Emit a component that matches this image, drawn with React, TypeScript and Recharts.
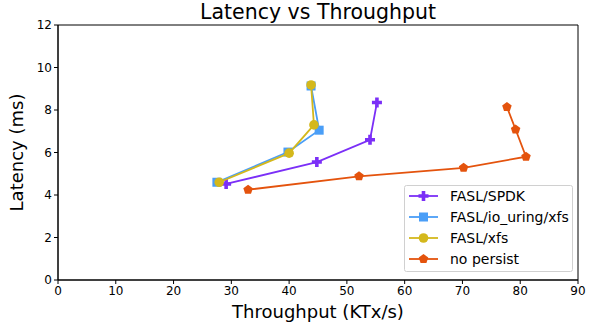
import React from 'react';
import {
  ScatterChart,
  Scatter,
  XAxis,
  YAxis,
  ReferenceArea,
} from 'recharts';

const spdkX = [29.1, 44.8, 54.0, 55.2];
const spdkY = [4.52, 5.55, 6.6, 8.35];

const ioUringX = [27.5, 39.8, 45.2, 43.8];
const ioUringY = [4.6, 6.02, 7.05, 9.13];

const xfsX = [27.9, 40.0, 44.3, 43.8];
const xfsY = [4.6, 5.97, 7.3, 9.18];

const noPersistX = [32.9, 52.1, 70.2, 81.0, 79.2, 77.7];
const noPersistY = [4.25, 4.88, 5.28, 5.8, 7.08, 8.14];

const xTicks = [0, 10, 20, 30, 40, 50, 60, 70, 80, 90];
const yTicks = [0, 2, 4, 6, 8, 10, 12];

const seriesNames = ['FASL/SPDK', 'FASL/io_uring/xfs', 'FASL/xfs', 'no persist'];
const colors = ['#7b2ff7', '#4a9ef7', '#d4b81c', '#e4530d'];
const markers = ['plus', 'square', 'circle', 'pentagon'];

const zip = (xs: number[], ys: number[]) => xs.map((x, i) => ({ x, y: ys[i] }));

const seriesData = [
  zip(spdkX, spdkY),
  zip(ioUringX, ioUringY),
  zip(xfsX, xfsY),
  zip(noPersistX, noPersistY),
];

const FONT = 'DejaVu Sans, sans-serif';

function Marker({ kind, cx, cy, color }: { kind: string; cx: number; cy: number; color: string }) {
  if (kind === 'plus') {
    const a = 5;
    const t = 1.8;
    const pts = [
      [-t, -a], [t, -a], [t, -t], [a, -t], [a, t], [t, t], [t, a], [-t, a], [-t, t], [-a, t], [-a, -t], [-t, -t],
    ]
      .map(([dx, dy]) => `${cx + dx},${cy + dy}`)
      .join(' ');
    return <polygon points={pts} fill={color} />;
  }
  if (kind === 'square') {
    return <rect x={cx - 4.5} y={cy - 4.5} width={9} height={9} fill={color} />;
  }
  if (kind === 'circle') {
    return <circle cx={cx} cy={cy} r={4.8} fill={color} />;
  }
  const r = 5;
  const pts = [0, 1, 2, 3, 4]
    .map((i) => {
      const ang = -Math.PI / 2 + (i * 2 * Math.PI) / 5;
      return `${cx + r * Math.cos(ang)},${cy + r * Math.sin(ang)}`;
    })
    .join(' ');
  return <polygon points={pts} fill={color} />;
}

const makeShape = (i: number) => (props: any) => {
  const { cx, cy } = props;
  if (cx == null || cy == null) return <g />;
  return <Marker kind={markers[i]} cx={cx} cy={cy} color={colors[i]} />;
};

const LegendBox = () => (
  <svg width={170} height={88} style={{ display: 'block' }}>
    <rect x={0.5} y={0.5} width={168} height={86} rx={2} fill="#fff" fillOpacity={0.8} stroke="#d0d0d0" />
    {seriesNames.map((name, i) => {
      const y = 11 + i * 21;
      return (
        <g key={name}>
          <line x1={5} x2={34} y1={y} y2={y} stroke={colors[i]} strokeWidth={1.8} />
          <Marker kind={markers[i]} cx={19.5} cy={y} color={colors[i]} />
          <text x={46} y={y + 5} fontSize={14} fontFamily={FONT} fill="#000">
            {name}
          </text>
        </g>
      );
    })}
  </svg>
);

export default function App() {
  return (
    <div style={{ position: 'absolute', left: 0, top: 0, width: 597, height: 330, background: '#fff' }}>
      <div
        style={{
          position: 'absolute',
          left: 58,
          width: 520,
          top: 0,
          textAlign: 'center',
          fontFamily: FONT,
          fontSize: 20.5,
          lineHeight: '24px',
          color: '#000',
        }}
      >
        Latency vs Throughput
      </div>
      <ScatterChart
        width={597}
        height={330}
        margin={{ top: 25, right: 19, bottom: 20, left: 28 }}
        style={{ fontFamily: FONT }}
      >
        <XAxis
          type="number"
          dataKey="x"
          domain={[0, 90]}
          ticks={xTicks}
          interval={0}
          allowDataOverflow
          height={30}
          tickSize={4}
          stroke="#000"
          tick={{ fill: '#000', fontSize: 12, fontFamily: FONT }}
          label={{ value: 'Throughput (KTx/s)', position: 'insideBottom', offset: -8, fontSize: 18, fill: '#000', fontFamily: FONT }}
        />
        <YAxis
          type="number"
          dataKey="y"
          domain={[0, 12]}
          ticks={yTicks}
          interval={0}
          allowDataOverflow
          width={30}
          tickSize={4}
          stroke="#000"
          tick={{ fill: '#000', fontSize: 12, fontFamily: FONT }}
          label={{ value: 'Latency (ms)', angle: -90, position: 'insideLeft', offset: -11, fontSize: 18, fill: '#000', fontFamily: FONT, style: { textAnchor: 'middle' } }}
        />
        <ReferenceArea x1={0} x2={90} y1={0} y2={12} fill="none" stroke="#000" strokeWidth={1} ifOverflow="visible" />
        {seriesData.map((d, i) => (
          <Scatter
            key={seriesNames[i]}
            name={seriesNames[i]}
            data={d}
            fill={colors[i]}
            line={{ stroke: colors[i], strokeWidth: 1.8 }}
            shape={makeShape(i)}
            isAnimationActive={false}
          />
        ))}
      </ScatterChart>
      <div style={{ position: 'absolute', left: 404, top: 185 }}>
        <LegendBox />
      </div>
    </div>
  );
}
